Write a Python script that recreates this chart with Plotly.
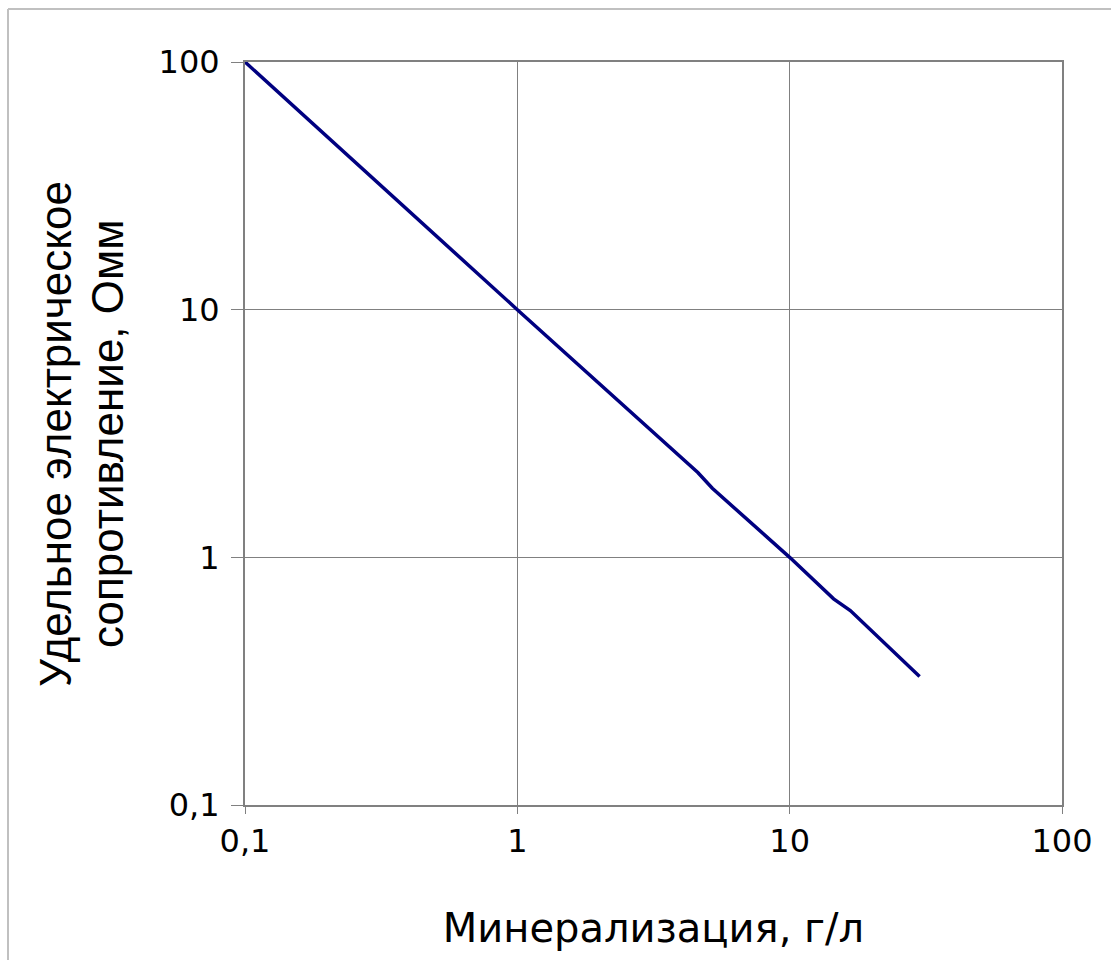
import plotly.graph_objects as go

# Data
mineralization = [0.1, 1, 4.6, 5.2, 10, 14.5, 16.7, 30]
resistivity = [100, 10, 2.2, 1.9, 1.0, 0.68, 0.61, 0.33]

tick_vals = [0.1, 1, 10, 100]
tick_text = ["0,1", "1", "10", "100"]

x_title = "Минерализация, г/л"
y_title_lines = ["Удельное электрическое", "сопротивление, Омм"]

W, H = 1111, 960
L, R, T, B = 245, 49, 62, 155
pw, ph = W - L - R, H - T - B
px = lambda p: (p - L) / pw
py = lambda p: (H - B - p) / ph

fig = go.Figure()
fig.add_trace(go.Scatter(
    x=mineralization, y=resistivity, mode="lines",
    line=dict(color="#000080", width=3.5), showlegend=False,
))

tickfont = dict(family="DejaVu Sans", size=32, color="black")
axis_common = dict(
    type="log", tickvals=tick_vals, ticktext=tick_text,
    showgrid=True, gridcolor="#808080", gridwidth=1,
    showline=True, linecolor="#808080", linewidth=2, mirror=True,
    ticks="outside", tickcolor="#808080", tickwidth=1,
    tickfont=tickfont, zeroline=False, automargin=False,
)
fig.update_xaxes(range=[-1, 2], **axis_common, ticklen=7,
                 title=dict(text=x_title, font=dict(family="DejaVu Sans", size=40, color="black"), standoff=55))
fig.update_yaxes(range=[-1, 2], **axis_common, ticklen=12, ticklabelstandoff=5)

# y-axis title, two lines
for text, xc in zip(y_title_lines, [56, 108]):
    fig.add_annotation(text=text, xref="paper", yref="paper", x=px(xc), y=py(434),
                       xanchor="center", yanchor="middle", textangle=-90, showarrow=False,
                       font=dict(family="Liberation Sans", size=44, color="black"))

# outer light-gray frame (only top and left edges visible)
fig.add_shape(type="line", xref="paper", yref="paper", x0=px(8), y0=py(9), x1=px(1120), y1=py(9),
              line=dict(color="#c0c0c0", width=2))
fig.add_shape(type="line", xref="paper", yref="paper", x0=px(8), y0=py(9), x1=px(8), y1=py(970),
              line=dict(color="#c0c0c0", width=2))

fig.update_layout(
    width=W, height=H, margin=dict(l=L, r=R, t=T, b=B),
    paper_bgcolor="white", plot_bgcolor="white",
)
fig.write_html("out.html")
